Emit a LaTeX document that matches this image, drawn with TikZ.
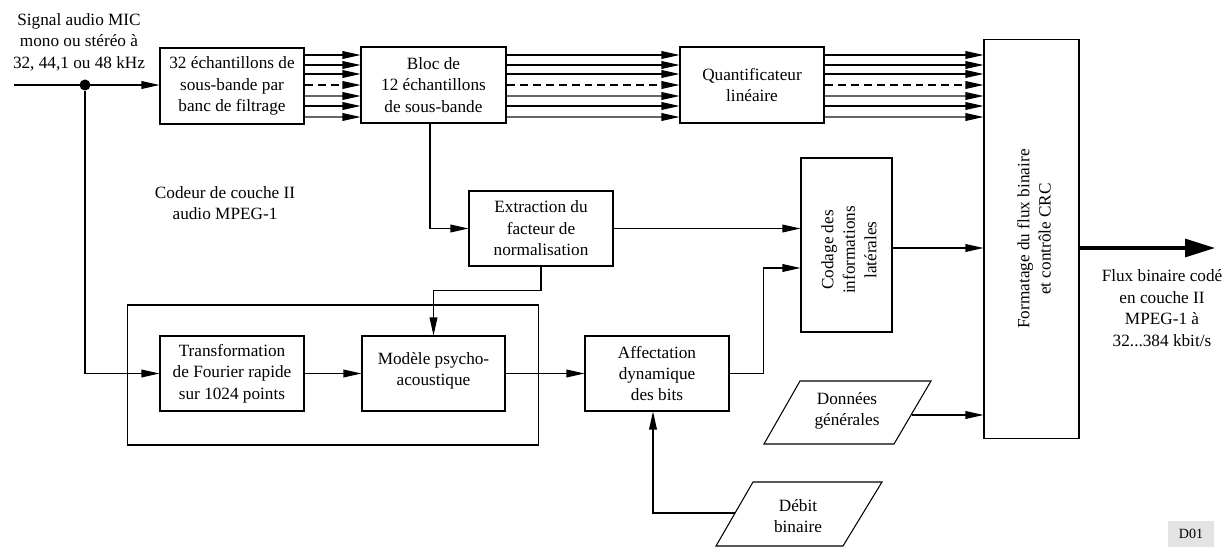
\documentclass[tikz,border=0pt]{standalone}
\usepackage{fontspec}
\setmainfont{Liberation Serif}
\usetikzlibrary{arrows.meta}
\begin{document}
\begin{tikzpicture}[x=0.02cm,y=-0.02cm,
  font=\fontsize{9.8}{12.2}\selectfont,
  line width=0.6pt,
  box/.style={draw,align=center,inner sep=1pt},
  lbl/.style={align=center,inner sep=0pt},
  arr/.style={-{Triangle[length=3.6mm,width=1.55mm,color=black]}},
  bline/.style={arr},
  gline/.style={arr,draw=black!60},
  dline/.style={arr,dash pattern=on 1.6mm off 1mm},
  thick out/.style={line width=1.8pt,-{Triangle[length=6mm,width=3.6mm]}},
  dot/.style={circle,fill,inner sep=0pt,minimum size=0.22cm}]
\useasboundingbox (0,0) rectangle (1232,547);

% processing blocks
\node[box,minimum width=2.88cm,minimum height=1.52cm] (b1) at (232,86)
  {32 échantillons de\\sous-bande par\\banc de filtrage};
\node[box,minimum width=2.90cm,minimum height=1.52cm] (b2) at (433.5,85)
  {Bloc de\\12 échantillons\\de sous-bande};
\node[box,minimum width=2.88cm,minimum height=1.52cm] (b3) at (752,85)
  {Quantificateur\\linéaire};
\node[box,minimum width=1.90cm,minimum height=8.00cm] (fmt) at (1031.5,239) {};
\node[lbl,rotate=90] (fmtt) at (1034,239) {Formatage du flux binaire\\et contrôle CRC};
\node[box,minimum width=1.82cm,minimum height=3.48cm] (cod) at (846.5,245) {};
\node[lbl,rotate=90] (codt) at (849,250) {Codage des\\informations\\latérales};
\node[box,minimum width=2.88cm,minimum height=1.50cm] (ext) at (541,228.5)
  {Extraction du\\facteur de\\normalisation};

% psychoacoustic group
\node[draw,minimum width=8.24cm,minimum height=2.80cm] (grp) at (333,375) {};
\node[box,minimum width=2.88cm,minimum height=1.50cm] (fft) at (232,373.5)
  {Transformation\\de Fourier rapide\\sur 1024 points};
\node[box,minimum width=2.86cm,minimum height=1.50cm] (mod) at (433.5,373.5) {};
\node[lbl] (modt) at (433.5,371) {Modèle psycho-\\acoustique};
\node[box,minimum width=2.88cm,minimum height=1.50cm] (aff) at (657,373.5)
  {Affectation\\dynamique\\des bits};

% data inputs
\draw (800,381) -- (931,381) -- (894,444) -- (764,444) -- cycle;
\node[lbl] (don) at (847,411) {Données\\générales};
\coordinate (donR) at (912,415);
\draw (753,482) -- (882,482) -- (843,546) -- (716,546) -- cycle;
\node[lbl] (deb) at (798,516) {Débit\\binaire};
\coordinate (debL) at (735,513);

% texts
\node[lbl] (inT) at (79,42) {Signal audio MIC\\mono ou stéréo à\\32, 44,1 ou 48 kHz};
\node[lbl] (codeur) at (225,203) {Codeur de couche II\\audio MPEG-1};
\node[lbl] (outT) at (1162,308) {Flux binaire codé\\en couche II\\MPEG-1 à\\32...384 kbit/s};
\node[fill=black!11,inner sep=0pt,minimum width=0.92cm,minimum height=0.52cm,
  font=\fontsize{8}{9}\selectfont] (ref) at (1191,534) {D01};

% input and branch to the FFT
\coordinate (in) at (14,85);
\node[dot] (jn) at (85,85) {};
\draw[arr] (in) -- (b1.west |- in);
\draw[arr] (jn) |- (fft.west);

% sub-band bundles
\foreach \yy/\st in {55/bline,65/bline,74/bline,85/dline,96/gline,106/bline,117/gline}{
  \draw[\st] (b1.east |- 0,\yy) -- (b2.west |- 0,\yy);
  \draw[\st] (b2.east |- 0,\yy) -- (b3.west |- 0,\yy);
  \draw[\st] (b3.east |- 0,\yy) -- (fmt.west |- 0,\yy);
}

% side chain
\draw[arr] (b2.south -| 430,0) |- (ext.west);
\draw[arr] (ext.east) -- (cod.west |- ext.east);
\draw[arr] (ext.south) -- ++(0,24) -| (mod.north);
\draw[arr] (fft.east) -- (mod.west);
\draw[arr] (mod.east) -- (aff.west);
\draw[arr] (aff.east) -- ++(34,0) |- (cod.west |- 0,268);
\draw[arr] (debL) -| (aff.south -| 653,0);
\draw[arr] (cod.east |- 0,248) -- (fmt.west |- 0,248);
\draw[arr] (donR) -- (fmt.west |- donR);

% coded output
\coordinate (outend) at (1215,248);
\draw[thick out] (fmt.east |- outend) -- (outend);
\end{tikzpicture}
\end{document}
